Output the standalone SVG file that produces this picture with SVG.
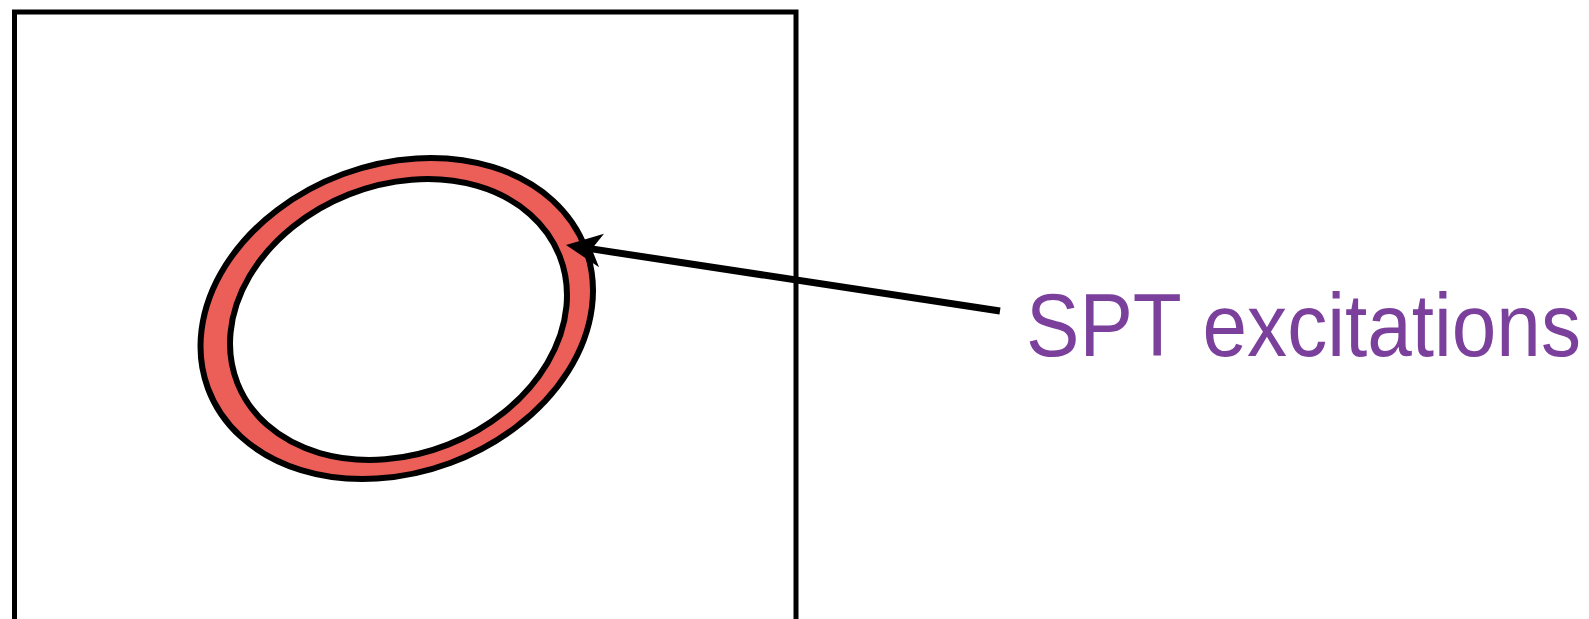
<svg xmlns="http://www.w3.org/2000/svg" width="1589" height="619" viewBox="0 0 1589 619">
<style>
.frame{fill:none;stroke:#000;stroke-width:5}
.ring{fill:#EC5F59;stroke:#000;stroke-width:6}
.hole{fill:#fff;stroke:#000;stroke-width:6}
.conn{fill:none;stroke:#000;stroke-width:7}
.lbl{font-family:"Liberation Sans",Arial,sans-serif;font-size:89px;fill:#7B3F9C}
</style>
<defs>
<marker id="ah" markerUnits="userSpaceOnUse" viewBox="0 0 36 34" refX="10" refY="17" markerWidth="36" markerHeight="34" orient="auto">
<path d="M36,17 L0,0 L10,17 L0,34 Z" fill="#000"/>
</marker>
</defs>
<rect width="1589" height="619" fill="#fff"/>
<g id="frame">
<rect class="frame" x="14.5" y="12" width="781.5" height="640"/>
</g>
<g id="ring">
<ellipse class="ring" cx="396.75" cy="318.5" rx="201.3" ry="154.1" transform="rotate(-20.3 396.75 318.5)"/>
<ellipse class="hole" cx="398.5" cy="319.5" rx="173.2" ry="134.6" transform="rotate(-21.6 398.5 319.5)"/>
</g>
<g id="connectors">
<line class="conn" x1="1000" y1="311" x2="591.7" y2="248.9" marker-end="url(#ah)"/>
</g>
<g id="label">
<text class="lbl" x="0" y="0" transform="translate(1026 356) scale(0.9 1)">SPT excitations</text>
</g>
</svg>
